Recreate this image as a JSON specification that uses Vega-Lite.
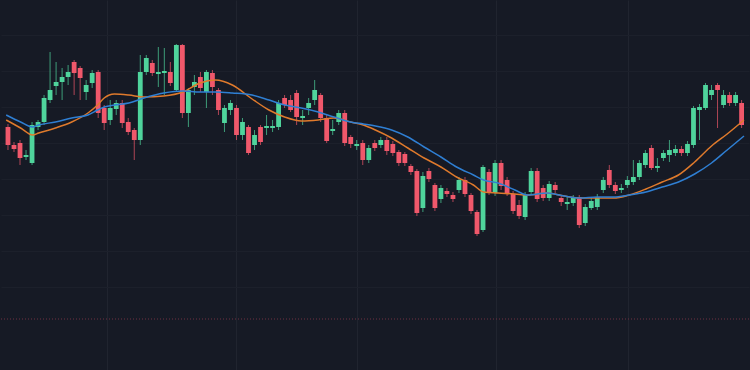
{
  "$schema": "https://vega.github.io/schema/vega-lite/v6.json",
  "width": 750,
  "height": 370,
  "autosize": {"type": "fit", "contains": "padding"},
  "padding": 0,
  "background": "#161a25",
  "config": {"view": {"stroke": null}},
  "datasets": {
    "candles": [
      {"t":0,"o":243,"h":246,"l":220,"c":225},
      {"t":1,"o":225,"h":228,"l":218,"c":221},
      {"t":2,"o":227,"h":230,"l":205,"c":212},
      {"t":3,"o":213,"h":220,"l":210,"c":215},
      {"t":4,"o":207,"h":248,"l":205,"c":245},
      {"t":5,"o":243,"h":250,"l":240,"c":248},
      {"t":6,"o":248,"h":275,"l":245,"c":272},
      {"t":7,"o":270,"h":318,"l":267,"c":280},
      {"t":8,"o":284,"h":308,"l":275,"c":288},
      {"t":9,"o":288,"h":302,"l":270,"c":293},
      {"t":10,"o":293,"h":305,"l":285,"c":298},
      {"t":11,"o":308,"h":310,"l":275,"c":297},
      {"t":12,"o":302,"h":304,"l":270,"c":292},
      {"t":13,"o":278,"h":290,"l":270,"c":285},
      {"t":14,"o":287,"h":300,"l":282,"c":297},
      {"t":15,"o":298,"h":300,"l":252,"c":257},
      {"t":16,"o":262,"h":265,"l":240,"c":247},
      {"t":17,"o":250,"h":270,"l":245,"c":262},
      {"t":18,"o":261,"h":270,"l":255,"c":267},
      {"t":19,"o":267,"h":270,"l":242,"c":247},
      {"t":20,"o":248,"h":252,"l":235,"c":238},
      {"t":21,"o":240,"h":242,"l":210,"c":230},
      {"t":22,"o":230,"h":315,"l":225,"c":298},
      {"t":23,"o":298,"h":315,"l":295,"c":312},
      {"t":24,"o":307,"h":310,"l":294,"c":297},
      {"t":25,"o":296,"h":323,"l":283,"c":298},
      {"t":26,"o":297,"h":322,"l":275,"c":299},
      {"t":27,"o":298,"h":308,"l":284,"c":287},
      {"t":28,"o":280,"h":326,"l":278,"c":325},
      {"t":29,"o":325,"h":326,"l":252,"c":257},
      {"t":30,"o":257,"h":282,"l":243,"c":280},
      {"t":31,"o":283,"h":295,"l":275,"c":288},
      {"t":32,"o":293,"h":298,"l":278,"c":282},
      {"t":33,"o":278,"h":300,"l":262,"c":298},
      {"t":34,"o":297,"h":300,"l":275,"c":283},
      {"t":35,"o":280,"h":282,"l":255,"c":260},
      {"t":36,"o":247,"h":265,"l":238,"c":262},
      {"t":37,"o":260,"h":270,"l":255,"c":267},
      {"t":38,"o":262,"h":265,"l":230,"c":235},
      {"t":39,"o":235,"h":252,"l":230,"c":248},
      {"t":40,"o":243,"h":245,"l":215,"c":217},
      {"t":41,"o":225,"h":240,"l":220,"c":235},
      {"t":42,"o":243,"h":245,"l":225,"c":228},
      {"t":43,"o":242,"h":255,"l":235,"c":244},
      {"t":44,"o":242,"h":250,"l":238,"c":244},
      {"t":45,"o":243,"h":270,"l":240,"c":267},
      {"t":46,"o":272,"h":275,"l":262,"c":265},
      {"t":47,"o":270,"h":275,"l":258,"c":260},
      {"t":48,"o":277,"h":280,"l":245,"c":253},
      {"t":49,"o":252,"h":260,"l":245,"c":254},
      {"t":50,"o":262,"h":272,"l":255,"c":267},
      {"t":51,"o":270,"h":290,"l":265,"c":280},
      {"t":52,"o":275,"h":277,"l":248,"c":252},
      {"t":53,"o":252,"h":255,"l":227,"c":229},
      {"t":54,"o":239,"h":250,"l":235,"c":241},
      {"t":55,"o":248,"h":260,"l":245,"c":257},
      {"t":56,"o":257,"h":260,"l":224,"c":227},
      {"t":57,"o":233,"h":235,"l":222,"c":226},
      {"t":58,"o":224,"h":230,"l":220,"c":226},
      {"t":59,"o":227,"h":230,"l":205,"c":210},
      {"t":60,"o":210,"h":225,"l":207,"c":222},
      {"t":61,"o":227,"h":230,"l":219,"c":222},
      {"t":62,"o":225,"h":233,"l":222,"c":230},
      {"t":63,"o":230,"h":233,"l":215,"c":219},
      {"t":64,"o":226,"h":229,"l":214,"c":217},
      {"t":65,"o":218,"h":220,"l":204,"c":207},
      {"t":66,"o":216,"h":218,"l":204,"c":207},
      {"t":67,"o":204,"h":206,"l":195,"c":198},
      {"t":68,"o":199,"h":201,"l":154,"c":157},
      {"t":69,"o":162,"h":198,"l":158,"c":194},
      {"t":70,"o":199,"h":202,"l":188,"c":191},
      {"t":71,"o":185,"h":187,"l":159,"c":162},
      {"t":72,"o":171,"h":185,"l":167,"c":182},
      {"t":73,"o":179,"h":182,"l":173,"c":176},
      {"t":74,"o":175,"h":178,"l":168,"c":171},
      {"t":75,"o":180,"h":193,"l":177,"c":190},
      {"t":76,"o":190,"h":193,"l":173,"c":176},
      {"t":77,"o":175,"h":177,"l":156,"c":159},
      {"t":78,"o":158,"h":160,"l":134,"c":136},
      {"t":79,"o":140,"h":205,"l":138,"c":203},
      {"t":80,"o":198,"h":201,"l":175,"c":178},
      {"t":81,"o":177,"h":210,"l":174,"c":207},
      {"t":82,"o":207,"h":210,"l":180,"c":184},
      {"t":83,"o":190,"h":193,"l":174,"c":177},
      {"t":84,"o":176,"h":179,"l":156,"c":159},
      {"t":85,"o":165,"h":170,"l":151,"c":154},
      {"t":86,"o":153,"h":178,"l":150,"c":175},
      {"t":87,"o":178,"h":202,"l":175,"c":199},
      {"t":88,"o":199,"h":202,"l":168,"c":171},
      {"t":89,"o":182,"h":185,"l":169,"c":172},
      {"t":90,"o":172,"h":189,"l":169,"c":186},
      {"t":91,"o":185,"h":188,"l":177,"c":180},
      {"t":92,"o":172,"h":175,"l":164,"c":168},
      {"t":93,"o":166,"h":174,"l":160,"c":168},
      {"t":94,"o":167,"h":175,"l":164,"c":172},
      {"t":95,"o":173,"h":175,"l":142,"c":145},
      {"t":96,"o":147,"h":166,"l":144,"c":163},
      {"t":97,"o":162,"h":172,"l":160,"c":169},
      {"t":98,"o":163,"h":176,"l":160,"c":173},
      {"t":99,"o":180,"h":193,"l":177,"c":190},
      {"t":100,"o":200,"h":205,"l":182,"c":185},
      {"t":101,"o":185,"h":188,"l":176,"c":179},
      {"t":102,"o":180,"h":186,"l":177,"c":182},
      {"t":103,"o":185,"h":194,"l":182,"c":190},
      {"t":104,"o":188,"h":210,"l":185,"c":193},
      {"t":105,"o":193,"h":210,"l":190,"c":207},
      {"t":106,"o":205,"h":220,"l":202,"c":217},
      {"t":107,"o":222,"h":225,"l":200,"c":202},
      {"t":108,"o":202,"h":212,"l":198,"c":204},
      {"t":109,"o":212,"h":220,"l":209,"c":217},
      {"t":110,"o":215,"h":230,"l":208,"c":220},
      {"t":111,"o":217,"h":225,"l":214,"c":221},
      {"t":112,"o":221,"h":224,"l":214,"c":217},
      {"t":113,"o":217,"h":229,"l":214,"c":226},
      {"t":114,"o":225,"h":264,"l":222,"c":262},
      {"t":115,"o":260,"h":266,"l":230,"c":263},
      {"t":116,"o":262,"h":287,"l":260,"c":285},
      {"t":117,"o":275,"h":285,"l":270,"c":280},
      {"t":118,"o":285,"h":287,"l":242,"c":280},
      {"t":119,"o":265,"h":280,"l":262,"c":275},
      {"t":120,"o":275,"h":278,"l":264,"c":267},
      {"t":121,"o":267,"h":278,"l":264,"c":275},
      {"t":122,"o":267,"h":270,"l":242,"c":245}
    ],
    "ma": [
      {"t":-0.3,"s":"fast","v":250},{"t":2.1,"s":"fast","v":242},{"t":4.1,"s":"fast","v":235},{"t":5.1,"s":"fast","v":237},
      {"t":7.9,"s":"fast","v":242},{"t":10.6,"s":"fast","v":248},{"t":13.3,"s":"fast","v":257},{"t":14.9,"s":"fast","v":265},
      {"t":16.0,"s":"fast","v":272},{"t":17.7,"s":"fast","v":276},{"t":20.1,"s":"fast","v":275},{"t":22.6,"s":"fast","v":273},
      {"t":25.9,"s":"fast","v":274},{"t":29.1,"s":"fast","v":278},{"t":31.9,"s":"fast","v":287},{"t":34.5,"s":"fast","v":290},
      {"t":37.3,"s":"fast","v":285},{"t":40.6,"s":"fast","v":271},{"t":43.4,"s":"fast","v":260},{"t":46.0,"s":"fast","v":253},
      {"t":48.8,"s":"fast","v":249},{"t":51.6,"s":"fast","v":250},{"t":54.2,"s":"fast","v":252},{"t":57.0,"s":"fast","v":248},
      {"t":59.1,"s":"fast","v":245},{"t":61.1,"s":"fast","v":240},{"t":63.8,"s":"fast","v":232},{"t":66.5,"s":"fast","v":222},
      {"t":69.2,"s":"fast","v":212},{"t":72.0,"s":"fast","v":203},{"t":74.6,"s":"fast","v":193},{"t":77.4,"s":"fast","v":185},
      {"t":79.1,"s":"fast","v":178},{"t":81.5,"s":"fast","v":177},{"t":84.3,"s":"fast","v":176},{"t":86.4,"s":"fast","v":175},
      {"t":89.7,"s":"fast","v":177},{"t":92.5,"s":"fast","v":174},{"t":95.1,"s":"fast","v":172},{"t":97.9,"s":"fast","v":172},
      {"t":100.7,"s":"fast","v":172},{"t":103.3,"s":"fast","v":175},{"t":106.1,"s":"fast","v":181},{"t":108.8,"s":"fast","v":188},
      {"t":111.5,"s":"fast","v":195},{"t":114.2,"s":"fast","v":208},{"t":117.0,"s":"fast","v":224},{"t":119.6,"s":"fast","v":236},
      {"t":122.4,"s":"fast","v":250},
      {"t":-0.3,"s":"slow","v":255},{"t":2.1,"s":"slow","v":248},{"t":4.1,"s":"slow","v":243},{"t":5.1,"s":"slow","v":245},
      {"t":7.9,"s":"slow","v":248},{"t":10.6,"s":"slow","v":252},{"t":13.3,"s":"slow","v":255},{"t":14.9,"s":"slow","v":260},
      {"t":16.0,"s":"slow","v":263},{"t":17.7,"s":"slow","v":265},{"t":20.1,"s":"slow","v":267},{"t":22.6,"s":"slow","v":272},
      {"t":25.9,"s":"slow","v":277},{"t":29.1,"s":"slow","v":279},{"t":31.9,"s":"slow","v":278},{"t":34.5,"s":"slow","v":278},
      {"t":37.3,"s":"slow","v":277},{"t":40.6,"s":"slow","v":275},{"t":43.4,"s":"slow","v":270},{"t":46.0,"s":"slow","v":265},
      {"t":48.8,"s":"slow","v":262},{"t":51.6,"s":"slow","v":258},{"t":54.2,"s":"slow","v":253},{"t":57.0,"s":"slow","v":248},
      {"t":59.1,"s":"slow","v":246},{"t":61.1,"s":"slow","v":244},{"t":63.8,"s":"slow","v":240},{"t":66.5,"s":"slow","v":233},
      {"t":69.2,"s":"slow","v":223},{"t":72.0,"s":"slow","v":213},{"t":74.6,"s":"slow","v":203},{"t":77.4,"s":"slow","v":195},
      {"t":79.1,"s":"slow","v":190},{"t":81.5,"s":"slow","v":187},{"t":84.3,"s":"slow","v":180},{"t":86.4,"s":"slow","v":175},
      {"t":89.7,"s":"slow","v":177},{"t":92.5,"s":"slow","v":174},{"t":95.1,"s":"slow","v":172},{"t":97.9,"s":"slow","v":173},
      {"t":100.7,"s":"slow","v":173},{"t":103.3,"s":"slow","v":175},{"t":106.1,"s":"slow","v":178},{"t":108.8,"s":"slow","v":183},
      {"t":111.5,"s":"slow","v":188},{"t":114.2,"s":"slow","v":196},{"t":117.0,"s":"slow","v":207},{"t":119.6,"s":"slow","v":220},
      {"t":122.4,"s":"slow","v":234}
    ],
    "levels": [{"price": 51}]
  },
  "resolve": {"scale": {"color": "shared"}},
  "layer": [
    {
      "data": {"name": "candles"},
      "transform": [{"calculate": "datum.c >= datum.o ? 'up' : 'down'", "as": "dir"}],
      "mark": {"type": "rule", "strokeWidth": 1, "opacity": 0.7},
      "encoding": {
        "x": {"field": "t", "type": "quantitative",
              "scale": {"domain": [-0.33, 122.4], "nice": false, "zero": false},
              "axis": {"values": [16.5, 38.0, 58.1, 81.2, 103.1], "labels": false, "ticks": false, "domain": false, "title": null, "grid": true, "gridColor": "#20242f", "gridWidth": 1}},
        "y": {"field": "l", "type": "quantitative",
              "scale": {"domain": [0, 370], "nice": false, "zero": false},
              "axis": {"values": [335, 299, 263, 227, 191, 155, 119, 83], "labels": false, "ticks": false, "domain": false, "title": null, "grid": true, "gridColor": "#1c202b", "gridWidth": 1}},
        "y2": {"field": "h"},
        "color": {"field": "dir", "type": "nominal",
                  "scale": {"domain": ["up", "down", "fast", "slow"], "range": ["#4fd49c", "#f0586b", "#df7a2c", "#2f7fd3"]},
                  "legend": null}
      }
    },
    {
      "data": {"name": "candles"},
      "transform": [{"calculate": "datum.c >= datum.o ? 'up' : 'down'", "as": "dir"}],
      "mark": {"type": "bar", "size": 4.8},
      "encoding": {
        "x": {"field": "t", "type": "quantitative"},
        "y": {"field": "o", "type": "quantitative"},
        "y2": {"field": "c"},
        "color": {"field": "dir", "type": "nominal", "legend": null}
      }
    },
    {
      "data": {"name": "ma"},
      "mark": {"type": "line", "strokeWidth": 1.5, "interpolate": "monotone"},
      "encoding": {
        "x": {"field": "t", "type": "quantitative"},
        "y": {"field": "v", "type": "quantitative"},
        "color": {"field": "s", "type": "nominal", "legend": null}
      }
    },
    {
      "data": {"name": "levels"},
      "mark": {"type": "rule", "color": "#6e3042", "strokeDash": [1, 2], "strokeWidth": 1.2},
      "encoding": {"y": {"field": "price", "type": "quantitative"}}
    }
  ]
}
